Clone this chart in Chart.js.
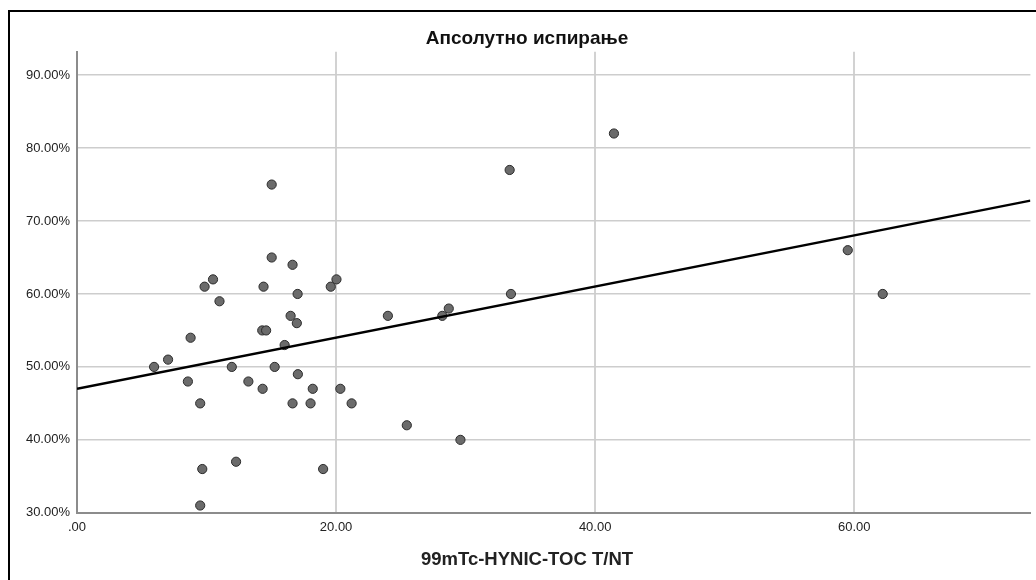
<!DOCTYPE html>
<html>
<head>
<meta charset="utf-8">
<title>Апсолутно испирање</title>
<script src="https://cdn.jsdelivr.net/npm/chart.js@4.4.1/dist/chart.umd.min.js"></script>
<style>
    html, body { margin: 0; padding: 0; background: #fff; overflow: hidden; }
    #wrap { position: relative; width: 1036px; height: 580px; }
    /* outer frame, runs off the right and bottom edge */
    #frame {
        position: absolute; left: 8px; top: 10px; width: 1100px; height: 700px;
        border: 2px solid #000; box-sizing: border-box;
    }
    #scatterChart { position: absolute; left: 0; top: 0; }
</style>
</head>
<body>
<div id="wrap">
    <div id="frame"></div>
    <canvas id="scatterChart" width="1036" height="580"></canvas>
</div>
<script>
// --- data: T/NT ratio vs. absolute washout (%) ---
const tntValues = [
    5.95, 7.03, 8.56, 8.77, 9.51, 9.51, 9.67, 9.85, 10.5, 11.0,
    11.95, 12.28, 13.23, 14.33, 14.3, 14.6, 14.4, 15.03, 15.03, 15.26,
    16.03, 16.49, 16.64, 16.64, 16.97, 17.03, 17.05, 18.03, 18.2, 19.0,
    19.59, 20.03, 20.33, 21.2, 24.0, 25.46, 28.2, 28.7, 29.6, 33.4,
    33.5, 41.45, 59.5, 62.2
];
const washoutValues = [
    50, 51, 48, 54, 45, 31, 36, 61, 62, 59,
    50, 37, 48, 47, 55, 55, 61, 65, 75, 50,
    53, 57, 64, 45, 56, 60, 49, 45, 47, 36,
    61, 62, 47, 45, 57, 42, 57, 58, 40, 77,
    60, 82, 66, 60
];

// fit line end points (left edge / right edge of the plot)
const fitX = [0, 73.6];
const fitY = [47.0, 72.8];

// tick labels
const xTicks = [0, 20, 40, 60];
const yTicks = [30, 40, 50, 60, 70, 80, 90];

const chartTitle = 'Апсолутно испирање';
const xTitle = '99mTc-HYNIC-TOC T/NT';

const fontFamily = 'Liberation Sans, Arial, sans-serif';

document.addEventListener('DOMContentLoaded', () => {
    const ctx = document.getElementById('scatterChart').getContext('2d');

    const points = tntValues.map((x, i) => ({ x: x, y: washoutValues[i] }));
    const fitPoints = fitX.map((x, i) => ({ x: x, y: fitY[i] }));

    new Chart(ctx, {
        type: 'scatter',
        data: {
            datasets: [
                {
                    // first dataset is painted on top
                    type: 'line',
                    label: 'fit',
                    data: fitPoints,
                    borderColor: '#000',
                    borderWidth: 2.5,
                    pointRadius: 0,
                    fill: false
                },
                {
                    label: 'washout',
                    data: points,
                    backgroundColor: '#6b6b6b',
                    borderColor: '#2b2b2b',
                    borderWidth: 1,
                    pointRadius: 4.6
                }
            ]
        },
        options: {
            responsive: false,
            animation: false,
            // left padding keeps both titles centred on the whole frame, not on the plot
            layout: { padding: { top: 0, left: 20, right: 2, bottom: 0 } },
            scales: {
                x: {
                    type: 'linear',
                    min: 0,
                    max: 73.6,
                    afterBuildTicks: (scale) => { scale.ticks = xTicks.map(v => ({ value: v })); },
                    afterFit: (scale) => { scale.height = 36; },
                    grid: { color: '#d2d2d2', lineWidth: 2, drawTicks: false },
                    border: { color: '#8c8c8c', width: 2 },
                    ticks: {
                        padding: 7,
                        color: '#222',
                        font: { family: fontFamily, size: 13 },
                        maxRotation: 0,
                        callback: (v) => v === 0 ? '.00' : Number(v).toFixed(2)
                    }
                },
                y: {
                    type: 'linear',
                    min: 30,
                    max: 93.2,
                    afterBuildTicks: (scale) => { scale.ticks = yTicks.map(v => ({ value: v })); },
                    afterFit: (scale) => { scale.width = 57; },
                    grid: { color: '#cdcdcd', lineWidth: 1.5, drawTicks: false },
                    border: { color: '#8c8c8c', width: 2 },
                    ticks: {
                        padding: 7,
                        color: '#222',
                        font: { family: fontFamily, size: 13 },
                        callback: (v) => Number(v).toFixed(2) + '%'
                    }
                }
            },
            plugins: {
                legend: { display: false },
                tooltip: { enabled: false },
                title: {
                    display: true,
                    text: chartTitle,
                    color: '#111',
                    font: { family: fontFamily, size: 19, weight: 'bold' },
                    padding: { top: 27, bottom: 2 }
                },
                // x axis caption sits under the tick labels
                subtitle: {
                    display: true,
                    position: 'bottom',
                    text: xTitle,
                    color: '#222',
                    font: { family: fontFamily, size: 18.5, weight: 'bold' },
                    padding: { top: 0, bottom: 9 }
                }
            }
        }
    });
});
</script>
</body>
</html>
